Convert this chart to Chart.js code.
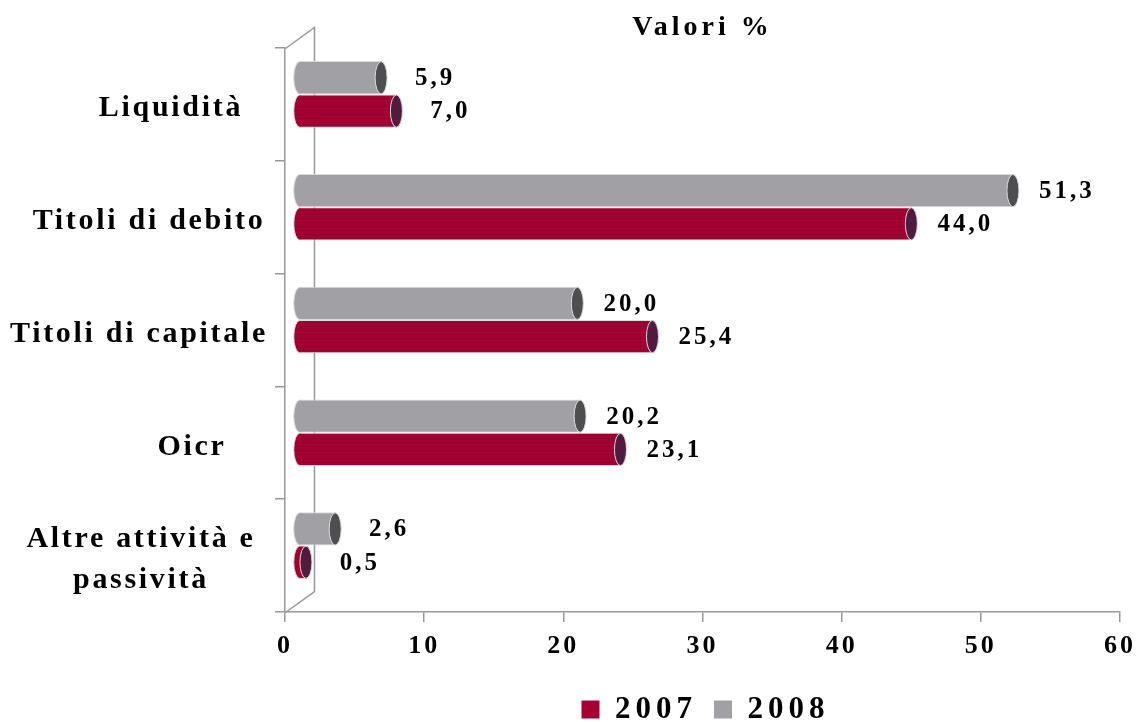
<!DOCTYPE html>
<html><head><meta charset="utf-8">
<style>html,body{margin:0;padding:0;background:#fff}canvas{display:block}</style>
<script src="https://cdn.jsdelivr.net/npm/chart.js@4"></script></head>
<body><canvas id="c" width="1142" height="722"></canvas>
<script>
const categories = ["Liquidità","Titoli di debito","Titoli di capitale","Oicr",["Altre attività e","passività"]];
const values2007 = [7.0,44.0,25.4,23.1,0.5];
const values2008 = [5.9,51.3,20.0,20.2,2.6];
const yearLabels = ["2007","2008"];
const titleText = "Valori %";
const labelCenters = [171,149,139,192,141];
const FONT = '"Liberation Serif"';
const SHIFT_X = 14, SHIFT_Y = -10, RX = 6, WALL_X = 29, WALL_Y = 21;
const AXIS = '#999999', EDGE = '#dcdadb';
const capColors = {'2007':'#521a3c','2008':'#4e4e50'};
const setLS = (fn, s, dx=0, dy=0) => function(...a){ const c=this.ctx; c.save(); c.letterSpacing=s; c.translate(dx,dy); const r=fn.apply(this,a); c.restore(); return r; };

function stripes(a,b){
  const p=document.createElement('canvas'); p.width=4; p.height=4;
  const g=p.getContext('2d'); g.fillStyle=a; g.fillRect(0,0,4,4); g.fillStyle=b; g.fillRect(0,0,4,1);
  return document.getElementById('c').getContext('2d').createPattern(p,'repeat');
}

const custom = {
  id:'custom',
  beforeDraw(chart){
    const y = chart.scales.y, x = chart.scales.x;
    if(!chart.$wrapped){
      chart.$wrapped = true;
      y.drawLabels = setLS(y.drawLabels,'2.7px');
      x.drawLabels = setLS(x.drawLabels,'3px');
      chart.legend.draw = setLS(chart.legend.draw,'5px',-17,13);
      chart.titleBlock.draw = setLS(chart.titleBlock.draw,'4px',0,3);
    }
    y.getLabelItems().forEach((it,i)=>{
      it.options.textAlign='center';
      it.options.translation[0]=labelCenters[i];
      it.options.translation[1]+=4;
    });
  },
  beforeDatasetsDraw(chart){
    const {ctx,chartArea:a} = chart;
    ctx.save();
    ctx.strokeStyle=AXIS; ctx.lineWidth=1.5;
    ctx.beginPath();
    ctx.moveTo(a.left+.5,a.bottom+.5); ctx.lineTo(a.left+WALL_X+.5,a.bottom-WALL_Y+.5);
    ctx.lineTo(a.left+WALL_X+.5,a.top-WALL_Y+.5); ctx.lineTo(a.left+.5,a.top+.5);
    ctx.stroke();
    ctx.restore();
    ctx.save();
    ctx.translate(SHIFT_X,SHIFT_Y);
  },
  beforeDatasetDraw(chart,{index,meta}){
    const ctx=chart.ctx, ds=chart.data.datasets[index];
    meta.data.forEach(b=>{
      ctx.beginPath();
      ctx.ellipse(b.base,b.y,RX,b.height/2-.5,0,0,Math.PI*2);
      ctx.fillStyle=ds.backgroundColor; ctx.fill();
      ctx.strokeStyle=EDGE; ctx.lineWidth=1; ctx.stroke();
    });
  },
  afterDatasetDraw(chart,{index,meta}){
    const ctx=chart.ctx, ds=chart.data.datasets[index];
    meta.data.forEach(b=>{
      ctx.beginPath();
      ctx.ellipse(b.x,b.y,RX,b.height/2-.5,0,0,Math.PI*2);
      ctx.fillStyle=capColors[ds.label]; ctx.fill();
      ctx.strokeStyle=EDGE; ctx.lineWidth=1; ctx.stroke();
    });
  },
  afterDatasetsDraw(chart){
    const ctx=chart.ctx;
    ctx.restore();
    ctx.save();
    ctx.font='bold 25px '+FONT; ctx.fillStyle='#000';
    ctx.textAlign='center'; ctx.textBaseline='middle'; ctx.letterSpacing='3px';
    chart.data.datasets.forEach((ds,i)=>{
      chart.getDatasetMeta(i).data.forEach((b,j)=>{
        ctx.fillText(ds.data[j].toFixed(1).replace('.',','), b.x+SHIFT_X+54, b.y+SHIFT_Y+1);
      });
    });
    ctx.restore();
  }
};

new Chart(document.getElementById('c'),{
  type:'bar',
  plugins:[custom],
  data:{labels:categories,datasets:[
    {label:yearLabels[1],data:values2008,backgroundColor:'#a1a1a5',borderColor:EDGE,borderWidth:1,borderSkipped:'left',clip:false},
    {label:yearLabels[0],data:values2007,backgroundColor:stripes('#a50034','#96002f'),borderColor:EDGE,borderWidth:1,borderSkipped:'left',clip:false}
  ]},
  options:{
    indexAxis:'y',responsive:false,animation:false,
    layout:{padding:0},
    datasets:{bar:{categoryPercentage:.59,barPercentage:1}},
    scales:{
      x:{min:0,max:60,
        ticks:{stepSize:10,color:'#000',font:{family:FONT,size:26,weight:'bold'},padding:9,maxRotation:0},
        grid:{drawOnChartArea:false,tickLength:10,color:AXIS,lineWidth:1.5},border:{color:AXIS,width:1.5},
        afterFit(s){s.height=52;}},
      y:{
        ticks:{color:'#000',font:{family:FONT,size:30,weight:'bold',lineHeight:1.37},autoSkip:false},
        grid:{drawOnChartArea:false,tickLength:10,color:AXIS,lineWidth:1.5},border:{color:AXIS,width:1.5},
        afterFit(s){s.width=285;}}
    },
    plugins:{
      tooltip:{enabled:false},
      title:{display:true,text:titleText,fullSize:false,color:'#000',font:{family:FONT,size:28,weight:'bold',lineHeight:1},padding:{top:11,bottom:9}},
      legend:{position:'bottom',fullSize:false,reverse:true,
        labels:{boxWidth:18,boxHeight:18,padding:17,color:'#000',font:{family:FONT,size:31,weight:'bold'},
          generateLabels(chart){
            const items=Chart.defaults.plugins.legend.labels.generateLabels(chart);
            items.forEach(it=>{ if(it.text==='2007'){it.fillStyle='#a50034';} it.strokeStyle='transparent'; it.lineWidth=0; });
            return items;
          }}}
    }
  }
});
</script></body></html>
